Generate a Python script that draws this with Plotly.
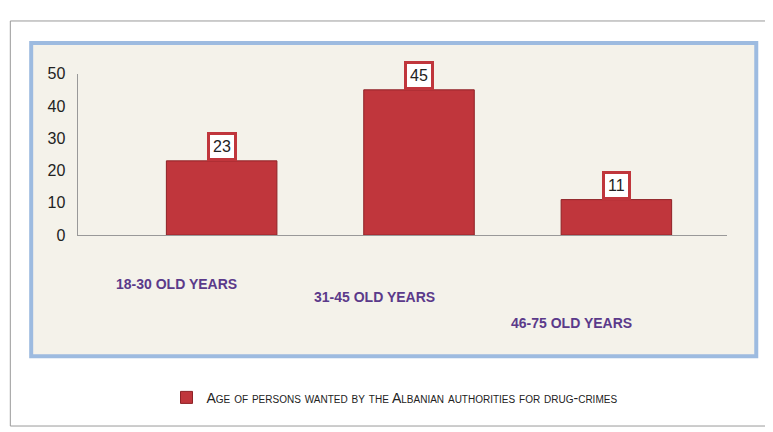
import plotly.graph_objs as go

categories = ["18-30 OLD YEARS", "31-45 OLD YEARS", "46-75 OLD YEARS"]
values = [23, 45, 11]
y_ticks = [0, 10, 20, 30, 40, 50]
series_name = "Age of persons wanted by the Albanian authorities for drug-crimes"

label_y = [0.355, 0.3, 0.235]  # paper y of staggered category labels

fig = go.Figure()
fig.add_trace(go.Bar(
    x=categories, y=values, name=series_name, width=0.56,
    marker=dict(color="#c0363c", line=dict(color="#8e2226", width=1)),
))

annotations = []
for c, ly in zip(categories, label_y):
    annotations.append(dict(
        x=c, xref="x", y=ly, yref="paper", text="<b>%s</b>" % c, xshift=-45,
        showarrow=False, font=dict(family="Liberation Sans", size=14, color="#5b3a8a"),
    ))
for c, v in zip(categories, values):
    annotations.append(dict(
        x=c, xref="x", y=v, yref="y", text=str(v), showarrow=False, yshift=14,
        font=dict(family="Liberation Sans", size=16, color="#222"),
        bgcolor="white", bordercolor="#c0363c", borderwidth=3, borderpad=3,
    ))

fig.update_layout(
    width=773, height=432,
    margin=dict(l=0, r=0, t=0, b=0),
    paper_bgcolor="white", plot_bgcolor="rgba(0,0,0,0)",
    xaxis=dict(domain=[0.09, 0.93], range=[-0.73, 2.56], showticklabels=False,
               showline=True, linecolor="#999", zeroline=False, showgrid=False),
    yaxis=dict(domain=[0.472, 0.861], range=[0, 50], tickvals=y_ticks,
               showline=True, linecolor="#999", showgrid=False, zeroline=False,
               ticklabelstandoff=8,
               tickfont=dict(family="Liberation Sans", size=16, color="#222")),
    showlegend=True,
    legend=dict(x=0.5, xanchor="center", y=0.08, yanchor="middle", orientation="h",
                font=dict(family="Liberation Sans", size=14, color="#222", variant="small-caps")),
    annotations=annotations,
    shapes=[
        dict(type="rect", xref="paper", yref="paper", x0=0.003, x1=0.997, y0=0.012, y1=0.988,
             line=dict(color="#9a9a9a", width=1), layer="below"),
        dict(type="rect", xref="paper", yref="paper", x0=0.03, x1=0.968, y0=0.18, y1=0.935,
             line=dict(color="#9dbbe0", width=4), fillcolor="#f4f2ea", layer="below"),
    ],
)

fig.write_html("out.html")
